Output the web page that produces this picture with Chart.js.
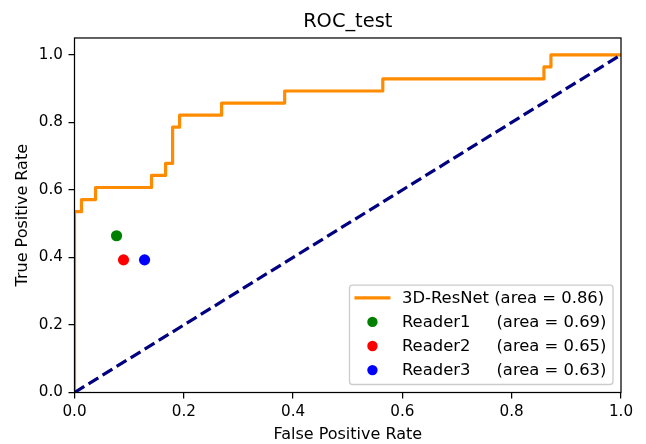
<!DOCTYPE html>
<html>
<head>
<meta charset="utf-8">
<script src="https://cdn.jsdelivr.net/npm/chart.js@4.4.1/dist/chart.umd.min.js"></script>
<style>
html,body{margin:0;padding:0;background:#fff;}
canvas{display:block;}
</style>
</head>
<body>
<canvas id="c" width="646" height="444"></canvas>
<script>
// ---- data ----
const chartTitle = "ROC_test";
const xAxisLabel = "False Positive Rate";
const yAxisLabel = "True Positive Rate";
const xTicks = [0.0, 0.2, 0.4, 0.6, 0.8, 1.0];
const yTicks = [0.0, 0.2, 0.4, 0.6, 0.8, 1.0];

const modelLabel = "3D-ResNet (area = 0.86)";
const modelFpr = [0, 0, 0.0128, 0.0128, 0.0385, 0.0385, 0.141, 0.141, 0.1667, 0.1667, 0.1795, 0.1795, 0.1923, 0.1923, 0.2692, 0.2692, 0.3846, 0.3846, 0.5641, 0.5641, 0.859, 0.859, 0.8718, 0.8718, 1.0];
const modelTpr = [0, 0.5357, 0.5357, 0.5714, 0.5714, 0.6071, 0.6071, 0.6429, 0.6429, 0.6786, 0.6786, 0.7857, 0.7857, 0.8214, 0.8214, 0.8571, 0.8571, 0.8929, 0.8929, 0.9286, 0.9286, 0.9643, 0.9643, 1.0, 1.0];

const chanceFpr = [0, 1];
const chanceTpr = [0, 1];

const readerLabels = ["Reader1     (area = 0.69)", "Reader2     (area = 0.65)", "Reader3     (area = 0.63)"];
const readerFpr = [0.0769, 0.0897, 0.1282];
const readerTpr = [0.4643, 0.3929, 0.3929];
const readerColors = ["#008000", "#ff0000", "#0000ff"];

// ---- build ----
const FONT = "'DejaVu Sans', sans-serif";
const toXY = (xs, ys) => xs.map((x, i) => ({x: x, y: ys[i]}));

const datasets = [
  {label: modelLabel, data: toXY(modelFpr, modelTpr), showLine: true, borderColor: "#ff8c00", backgroundColor: "#ff8c00",
   borderWidth: 3.2, pointRadius: 0, borderCapStyle: "square", borderJoinStyle: "round", order: 5, legendKind: "line"},
  {label: "", data: toXY(chanceFpr, chanceTpr), showLine: true, borderColor: "#000080", backgroundColor: "#000080",
   borderWidth: 3.2, pointRadius: 0, borderDash: [11.5, 5], borderCapStyle: "butt", order: 4, legendKind: "none"}
];
readerLabels.forEach((lab, i) => {
  datasets.push({label: lab, data: [{x: readerFpr[i], y: readerTpr[i]}], showLine: false,
    backgroundColor: readerColors[i], borderColor: readerColors[i], borderWidth: 0,
    pointRadius: 5.6, order: 3 - i, legendKind: "point"});
});

const framePlugin = {
  id: "frameAndLegend",
  afterLayout(chart) {
    const t = chart.titleBlock;
    if (t) { t.left = chart.chartArea.left; t.right = chart.chartArea.right; t.width = t.right - t.left; }
  },
  afterDatasetsDraw(chart) {
    const {ctx, chartArea: a} = chart;
    ctx.save();
    ctx.strokeStyle = "#000";
    ctx.lineWidth = 1.24;
    ctx.strokeRect(a.left, a.top, a.right - a.left, a.bottom - a.top);
    ctx.restore();
  },
  afterDraw(chart) {
    const {ctx, chartArea: a} = chart;
    const items = chart.data.datasets.filter(d => d.legendKind !== "none");
    const fs = 16.4;
    ctx.save();
    ctx.font = fs + "px " + FONT;
    let maxW = 0;
    items.forEach(d => { maxW = Math.max(maxW, ctx.measureText(d.label).width); });
    const pad = 0.4 * fs, handleLen = 2 * fs, handlePad = 0.8 * fs;
    const rowH = 24.1;
    const w = pad + handleLen + handlePad + maxW + pad;
    const h = 12.7 + rowH * (items.length - 1) + 14.4;
    const right = a.right - 8, bottom = a.bottom - 8;
    const left = right - w, top = bottom - h;
    // box
    const r = 3;
    ctx.beginPath();
    ctx.moveTo(left + r, top);
    ctx.lineTo(right - r, top); ctx.arcTo(right, top, right, top + r, r);
    ctx.lineTo(right, bottom - r); ctx.arcTo(right, bottom, right - r, bottom, r);
    ctx.lineTo(left + r, bottom); ctx.arcTo(left, bottom, left, bottom - r, r);
    ctx.lineTo(left, top + r); ctx.arcTo(left, top, left + r, top, r);
    ctx.closePath();
    ctx.fillStyle = "rgba(255,255,255,0.8)";
    ctx.fill();
    ctx.strokeStyle = "#cccccc";
    ctx.lineWidth = 1.3;
    ctx.stroke();
    items.forEach((d, i) => {
      const cy = top + 12.7 + i * rowH;
      const hx0 = left + pad, hx1 = hx0 + handleLen;
      if (d.legendKind === "line") {
        ctx.beginPath();
        ctx.moveTo(hx0, cy); ctx.lineTo(hx1, cy);
        ctx.strokeStyle = d.borderColor; ctx.lineWidth = d.borderWidth; ctx.lineCap = "square";
        ctx.stroke();
      } else {
        ctx.beginPath();
        ctx.arc((hx0 + hx1) / 2, cy, 5.2, 0, Math.PI * 2);
        ctx.fillStyle = d.backgroundColor; ctx.fill();
      }
      ctx.fillStyle = "#000";
      ctx.textBaseline = "middle";
      ctx.textAlign = "left";
      ctx.fillText(d.label, hx1 + handlePad, cy + 1);
    });
    ctx.restore();
  }
};

const tickFont = {family: FONT, size: 15.2};
const axisCommon = {
  type: "linear",
  border: {display: false},
  grid: {display: true, drawOnChartArea: false, drawTicks: true, tickLength: 6, color: "#000", lineWidth: 1.24},
  ticks: {color: "#000", font: tickFont, maxRotation: 0, autoSkip: false, callback: v => Number(v).toFixed(1)}
};

new Chart(document.getElementById("c"), {
  type: "scatter",
  data: {datasets: datasets},
  options: {
    responsive: false,
    animation: false,
    devicePixelRatio: 1,
    events: [],
    layout: {padding: {top: 0, right: 25, bottom: 0, left: 0}},
    plugins: {
      legend: {display: false},
      tooltip: {enabled: false},
      title: {display: true, text: chartTitle, color: "#000", font: {family: FONT, size: 19.4, weight: "normal", lineHeight: 1.2},
              padding: {top: 10, bottom: 4.7}}
    },
    scales: {
      x: Object.assign({}, axisCommon, {
        position: "bottom", min: 0, max: 1,
        ticks: Object.assign({}, axisCommon.ticks, {padding: 4.5}),
        title: {display: true, text: xAxisLabel, color: "#000", font: {family: FONT, size: 16, lineHeight: 1.2}, padding: {top: 0, bottom: 0}},
        afterBuildTicks: s => { s.ticks = xTicks.map(v => ({value: v})); },
        afterFit: s => { s.height = 51.5; }
      }),
      y: Object.assign({}, axisCommon, {
        position: "left", min: 0, max: 1.05,
        ticks: Object.assign({}, axisCommon.ticks, {padding: 5.5}),
        title: {display: true, text: yAxisLabel, color: "#000", font: {family: FONT, size: 16, lineHeight: 1.2}, padding: {top: 13.4, bottom: 0}},
        afterBuildTicks: s => { s.ticks = yTicks.map(v => ({value: v})); },
        afterFit: s => { s.width = 74.5; }
      })
    }
  },
  plugins: [framePlugin]
});
</script>
</body>
</html>
